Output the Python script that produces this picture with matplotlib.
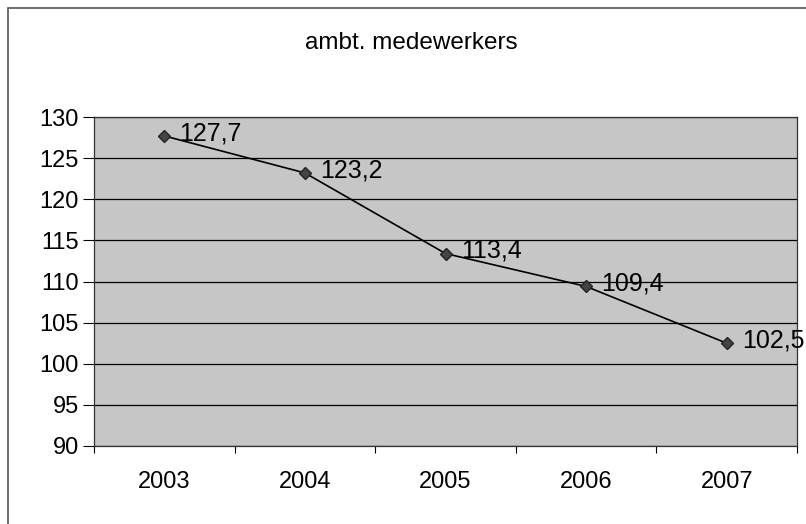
import matplotlib
matplotlib.use('Agg')
import matplotlib.pyplot as plt
from matplotlib.patches import Rectangle
import numpy as np

years = ['2003', '2004', '2005', '2006', '2007']
values = [127.7, 123.2, 113.4, 109.4, 102.5]
value_labels = ['127,7', '123,2', '113,4', '109,4', '102,5']
y_ticks = [90, 95, 100, 105, 110, 115, 120, 125, 130]

plt.rcParams['font.family'] = ['Liberation Sans', 'DejaVu Sans']

fig = plt.figure(figsize=(8.06, 5.24), dpi=100)
ax = fig.add_axes([94 / 806, 1 - 446 / 524, (797 - 94) / 806, (446 - 117) / 524])

# outer chart border (left and top visible in scan)
fig.patches.append(Rectangle((8 / 806, -0.1), 2, 1.1 - 8 / 524, transform=fig.transFigure,
                             fill=False, edgecolor='#555555', linewidth=1.2))

x = np.arange(len(years))
ax.set_facecolor('#c6c6c6')
ax.set_xlim(-0.5, len(years) - 0.5)
ax.set_ylim(90, 130)
ax.set_yticks(y_ticks)
ax.set_yticklabels([str(t) for t in y_ticks], fontsize=17)
ax.set_xticks(x)
ax.set_xticklabels(years, fontsize=17)
ax.set_xticks(np.arange(-0.5, len(years)), minor=True)
ax.tick_params(axis='x', which='major', length=0, pad=18)
ax.tick_params(axis='x', which='minor', length=5, width=0.8)
ax.tick_params(axis='y', length=8, width=0.8, pad=3)
ax.yaxis.grid(True, color='black', linewidth=0.9)
ax.set_axisbelow(True)
for s in ax.spines.values():
    s.set_color('#333333')
    s.set_linewidth(0.9)

ax.plot(x, values, color='black', linewidth=1.2, marker='D', markersize=6,
        markerfacecolor='#444444', markeredgecolor='#222222')
for xi, v, lab in zip(x, values, value_labels):
    ax.annotate(lab, (xi, v), xytext=(11, 2), textcoords='offset points',
                va='center', ha='left', fontsize=18)

fig.text(0.51, 1 - 43 / 524, 'ambt. medewerkers', ha='center', va='center', fontsize=17.5)

fig.savefig('out.png', dpi=100)
